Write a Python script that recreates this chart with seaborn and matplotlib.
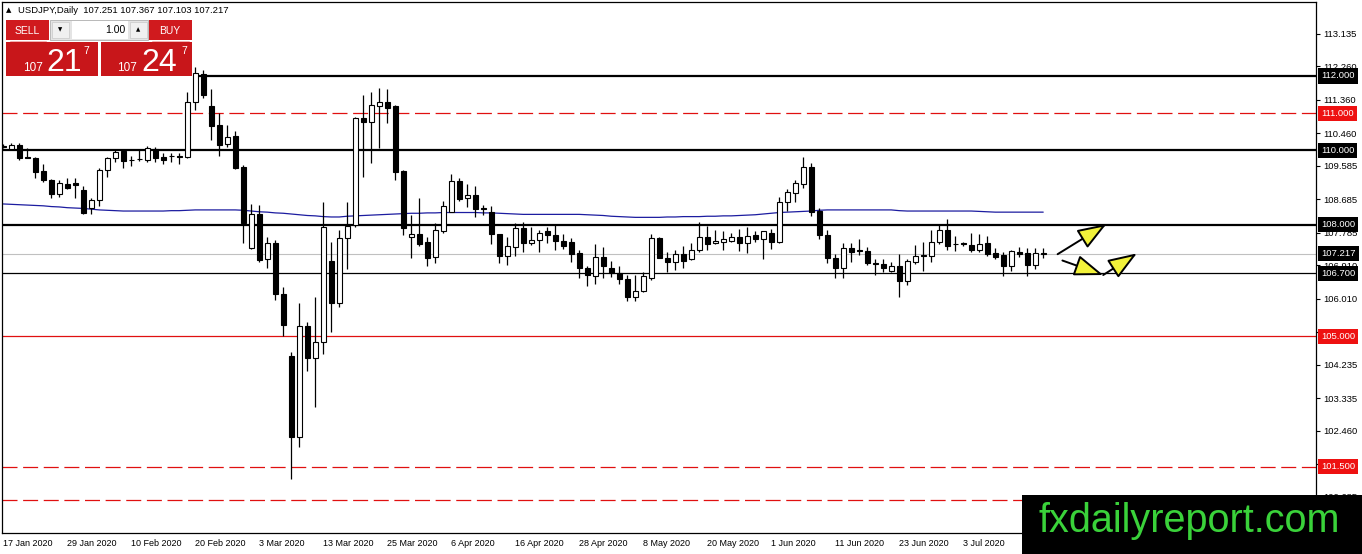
import numpy as np
import pandas as pd
import matplotlib
matplotlib.use("Agg")
import matplotlib.pyplot as plt
from matplotlib.transforms import blended_transform_factory
from matplotlib.patches import Rectangle
import seaborn as sns

# ---------------- data ----------------
opens = [110.12,110.04,110.15,109.81,109.80,109.45,109.20,108.83,109.10,109.12,
         108.94,108.44,108.67,109.47,109.79,109.98,109.75,109.76,109.74,110.04,
         109.81,109.86,109.84,109.81,111.31,112.05,111.19,110.68,110.16,110.39,
         109.55,107.38,108.29,107.07,107.52,106.13,104.46,102.30,105.27,104.43,
         104.86,107.02,105.89,107.64,108.00,110.86,110.75,111.20,111.29,111.18,
         109.45,107.68,107.74,107.53,107.13,107.84,108.34,109.18,108.71,108.80,
         108.44,108.35,107.75,107.17,107.41,107.91,107.50,107.59,107.82,107.73,
         107.56,107.53,107.24,106.85,106.62,107.14,106.83,106.71,106.55,106.07,
         106.23,106.58,107.64,107.10,106.99,107.21,107.07,107.32,107.66,107.50,
         107.55,107.57,107.66,107.50,107.73,107.62,107.77,107.55,108.62,108.86,
         109.09,109.55,108.38,107.73,107.10,106.83,107.37,107.31,107.30,106.97,
         106.95,106.76,106.89,106.49,107.01,107.19,107.16,107.53,107.87,107.49,
         107.50,107.46,107.31,107.52,107.24,107.19,106.88,107.26,107.24,106.91,
         107.251]
highs = [110.18,110.19,110.19,110.06,109.82,109.63,109.22,109.20,109.26,109.25,
         109.03,108.72,109.53,109.83,110.03,110.05,109.85,110.04,110.12,110.09,
         109.92,109.92,109.92,111.58,112.25,112.16,111.64,111.00,110.68,110.53,
         109.60,108.56,108.53,107.68,107.60,106.34,104.59,105.91,105.38,106.07,
         108.62,107.55,107.86,108.62,110.90,111.49,111.56,111.67,111.64,111.22,
         109.46,108.27,108.71,107.68,108.06,108.65,109.36,109.26,109.10,109.04,
         108.54,108.51,107.76,107.68,108.06,108.08,107.95,107.86,107.95,108.00,
         107.75,107.64,107.32,106.90,107.48,107.40,107.03,106.89,106.65,106.65,
         106.72,107.75,107.68,107.26,107.32,107.44,107.50,108.08,107.98,107.86,
         107.82,107.77,107.90,107.93,107.82,107.84,107.88,108.74,108.96,109.20,
         109.81,109.65,108.44,107.86,107.22,107.50,107.52,107.62,107.40,107.08,
         107.07,107.01,107.21,107.07,107.46,107.55,107.86,108.00,108.15,107.71,
         107.55,107.77,107.76,107.70,107.37,107.28,107.33,107.41,107.37,107.38,
         107.367]
lows = [110.06,110.02,109.74,109.79,109.25,109.16,108.71,108.76,108.95,108.72,
        108.28,108.28,108.51,109.29,109.70,109.52,109.57,109.72,109.70,109.70,
        109.64,109.70,109.63,109.80,111.09,111.41,110.28,109.85,110.10,109.49,
        107.50,107.34,107.01,106.83,105.98,105.00,101.18,102.04,104.08,103.09,
        104.53,105.13,105.80,106.80,107.95,109.29,109.65,110.06,110.73,109.20,
        107.73,107.10,107.44,106.90,106.98,107.79,108.34,108.65,108.49,108.20,
        108.27,107.48,106.96,106.92,107.15,107.28,107.47,107.28,107.50,107.32,
        107.36,107.00,106.56,106.35,106.40,106.58,106.60,106.40,105.95,105.95,
        106.20,106.52,107.10,106.72,106.79,106.83,107.05,107.28,107.32,107.49,
        107.32,107.55,107.30,107.25,107.55,107.07,107.34,107.50,108.38,108.60,
        109.00,108.24,107.61,106.98,106.56,106.56,107.01,107.20,106.92,106.65,
        106.73,106.74,106.05,106.38,106.95,106.77,107.00,107.49,107.32,107.30,
        107.43,107.27,107.27,107.17,107.09,106.63,106.76,107.13,106.63,106.82,
        107.103]
closes = [110.10,110.15,109.80,109.80,109.43,109.20,108.83,109.12,108.98,109.06,
          108.31,108.67,109.47,109.79,109.97,109.71,109.74,109.77,110.06,109.79,
          109.74,109.85,109.83,111.31,112.07,111.49,110.66,110.15,110.37,109.54,
          108.06,108.28,107.05,107.50,106.13,105.31,102.30,105.27,104.43,104.86,
          107.93,105.89,107.64,107.97,110.86,110.75,111.22,111.29,111.15,109.43,
          107.92,107.75,107.48,107.12,107.86,108.50,109.18,108.69,108.80,108.42,
          108.43,107.74,107.17,107.43,107.91,107.50,107.59,107.77,107.73,107.56,
          107.44,107.21,106.83,106.65,107.14,106.89,106.71,106.53,106.07,106.23,
          106.62,107.64,107.10,106.99,107.21,107.03,107.32,107.68,107.48,107.56,
          107.62,107.66,107.50,107.71,107.62,107.82,107.55,108.62,108.87,109.12,
          109.55,108.35,107.73,107.10,106.83,107.37,107.28,107.30,106.97,106.94,
          106.83,106.89,106.49,107.03,107.16,107.16,107.53,107.87,107.44,107.48,
          107.49,107.31,107.49,107.21,107.13,106.88,107.30,107.21,106.91,107.24,
          107.217]
ma_line = [108.56,108.55,108.54,108.53,108.52,108.51,108.49,108.48,108.46,108.45,
           108.44,108.42,108.40,108.39,108.38,108.37,108.37,108.37,108.37,108.37,
           108.37,108.38,108.38,108.39,108.40,108.40,108.40,108.40,108.40,108.40,
           108.39,108.37,108.35,108.34,108.32,108.31,108.29,108.27,108.25,108.24,
           108.22,108.21,108.21,108.23,108.24,108.25,108.26,108.27,108.28,108.29,
           108.30,108.31,108.31,108.32,108.32,108.33,108.33,108.33,108.33,108.33,
           108.32,108.32,108.31,108.30,108.29,108.28,108.28,108.28,108.28,108.28,
           108.28,108.28,108.28,108.27,108.26,108.25,108.23,108.22,108.21,108.20,
           108.20,108.20,108.20,108.21,108.21,108.22,108.22,108.22,108.23,108.23,
           108.24,108.24,108.25,108.26,108.27,108.29,108.31,108.33,108.34,108.35,
           108.36,108.37,108.39,108.40,108.40,108.40,108.40,108.40,108.40,108.40,
           108.40,108.40,108.38,108.37,108.37,108.37,108.37,108.37,108.37,108.37,
           108.37,108.37,108.36,108.35,108.34,108.34,108.34,108.34,108.34,108.34,
           108.34]

date_labels = ["17 Jan 2020", "29 Jan 2020", "10 Feb 2020", "20 Feb 2020", "3 Mar 2020",
               "13 Mar 2020", "25 Mar 2020", "6 Apr 2020", "16 Apr 2020", "28 Apr 2020",
               "8 May 2020", "20 May 2020", "1 Jun 2020", "11 Jun 2020", "23 Jun 2020",
               "3 Jul 2020"]
date_label_bars = [0, 8, 16, 24, 32, 40, 48, 56, 64, 72, 80, 88, 96, 104, 112, 120]

price_ticks = [113.135, 112.260, 111.360, 110.460, 109.585, 108.685, 107.785, 106.910,
               106.010, 105.110, 104.235, 103.335, 102.460, 101.560, 100.685]

# horizontal levels
level_prices = [112.0, 111.0, 110.0, 108.0, 107.217, 106.7, 105.0, 101.5, 100.6]
level_colors = ["black", "#e01010", "black", "black", "#c0c0c0", "black", "#e01010", "#e01010", "#e01010"]
level_styles = ["solid", "dashed", "solid", "solid", "solid", "solid", "solid", "dashed", "dashed"]
level_widths = [1.6, 0.9, 1.6, 1.6, 0.8, 0.9, 0.9, 0.9, 0.9]
level_start = [24, None, None, None, None, None, None, None, None]

tag_prices = [112.0, 111.0, 110.0, 108.0, 107.217, 106.7, 105.0, 101.5]
tag_colors = ["black", "#ee1111", "black", "black", "black", "black", "#ee1111", "#ee1111"]

# forecast arrows (bar, price) -> (bar, price)
arrow_from = [(131.8, 107.21), (132.4, 107.04), (137.5, 106.65)]
arrow_to = [(137.9, 108.02), (137.5, 106.65), (141.7, 107.23)]

# ---------------- figure ----------------
sns.set_style("white")
plt.rcParams["font.family"] = ["Liberation Sans", "DejaVu Sans"]

W, H = 1362, 554
fig = plt.figure(figsize=(W / 100, H / 100), dpi=100)
fig.patch.set_facecolor("white")

L_, R_, T_, B_ = 2, 1316, 2, 533
ax = fig.add_axes([L_ / W, (H - B_) / H, (R_ - L_) / W, (B_ - T_) / H])
ax.set_facecolor("white")

df = pd.DataFrame({"bar": np.arange(len(opens)), "open": opens, "high": highs,
                   "low": lows, "close": closes, "ma": ma_line})

# wicks
ax.vlines(df["bar"], df["low"], df["high"], color="black", lw=0.9, zorder=3)
# bodies
up = df["close"] >= df["open"]
body_bottom = np.minimum(df["open"], df["close"])
body_h = np.maximum(np.abs(df["close"] - df["open"]), 0.004)
ax.bar(df["bar"][up], body_h[up], bottom=body_bottom[up], width=0.62,
       color="white", edgecolor="black", linewidth=0.8, zorder=4)
ax.bar(df["bar"][~up], body_h[~up], bottom=body_bottom[~up], width=0.62,
       color="black", edgecolor="black", linewidth=0.8, zorder=4)

# moving average
sns.lineplot(data=df, x="bar", y="ma", ax=ax, color="#1c1ca0", lw=0.9, zorder=2)

XMIN, XMAX = -0.16, 164.1
ax.set_xlim(XMIN, XMAX)
ax.set_ylim(99.715, 113.989)

# levels
for p, c, s, w, st in zip(level_prices, level_colors, level_styles, level_widths, level_start):
    xmin = 0 if st is None else (st - XMIN) / (XMAX - XMIN)
    ln = ax.axhline(p, xmin=xmin, xmax=1, color=c, lw=w, zorder=1.5)
    if s == "dashed":
        ln.set_dashes((12, 4.5))

# arrows
for (x0, y0), (x1, y1) in zip(arrow_from, arrow_to):
    ax.annotate("", xy=(x1, y1), xytext=(x0, y0),
                arrowprops=dict(arrowstyle="-|>,head_length=1.5,head_width=0.55",
                                fc="#f2f23a", ec="black", lw=1.4,
                                mutation_scale=12, shrinkA=0, shrinkB=0), zorder=6)

# axes styling
for sp in ax.spines.values():
    sp.set_color("black")
    sp.set_linewidth(0.9)
ax.yaxis.tick_right()
ax.set_yticks(price_ticks)
ax.set_yticklabels([f"{v:.3f}" for v in price_ticks])
ax.tick_params(axis="y", direction="out", length=3, width=0.8, pad=2.5, labelsize=6.8,
               colors="black", right=True, left=False)
ax.set_xticks(date_label_bars)
ax.set_xticklabels(date_labels, ha="left")
ax.tick_params(axis="x", direction="out", length=3, width=0.8, pad=1.5, labelsize=6.5,
               colors="black")
ax.set_xlabel("")
ax.set_ylabel("")

# price tags on the right scale
trans = blended_transform_factory(ax.transAxes, ax.transData)
for p, c in zip(tag_prices, tag_colors):
    ax.text(1.0 + 5 / (R_ - L_), p, f"{p:.3f}", transform=trans, ha="left", va="center",
            fontsize=6.8, color="white", clip_on=False, zorder=8,
            bbox=dict(boxstyle="square,pad=0.32", fc=c, ec="none"))

# ---------------- overlay (panel, title, watermark) ----------------
ov = fig.add_axes([0, 0, 1, 1], zorder=10)
ov.set_xlim(0, W)
ov.set_ylim(H, 0)
ov.axis("off")
ov.patch.set_alpha(0)

ov.text(6, 10, "\u25b2", fontsize=5, va="center", ha="left", color="black",
        family=["DejaVu Sans"])
ov.text(18, 10.5, "USDJPY,Daily  107.251 107.367 107.103 107.217", fontsize=6.8,
        va="center", ha="left", color="black")

red = "#d01a1e"
ov.add_patch(Rectangle((6, 20), 43, 20, fc=red, ec="none"))
ov.add_patch(Rectangle((149, 20), 43, 20, fc=red, ec="none"))
ov.add_patch(Rectangle((50, 20), 98, 20, fc="#e4e4e4", ec="#b0b0b0", lw=0.6))
ov.add_patch(Rectangle((72, 21), 56, 18, fc="white", ec="none"))
ov.add_patch(Rectangle((52, 22), 17, 16, fc="#f0f0f0", ec="#c8c8c8", lw=0.5))
ov.add_patch(Rectangle((130, 22), 17, 16, fc="#f0f0f0", ec="#c8c8c8", lw=0.5))
ov.add_patch(Rectangle((6, 42), 92, 34, fc="#c8161a", ec="none"))
ov.add_patch(Rectangle((101, 42), 91, 34, fc="#c8161a", ec="none"))
ov.plot([10, 46], [41, 41], color="#f0a0a0", lw=0.6)
ov.plot([152, 189], [41, 41], color="#f0a0a0", lw=0.6)
ov.text(27, 30.5, "SELL", fontsize=7.5, color="white", ha="center", va="center")
ov.text(170, 30.5, "BUY", fontsize=7.5, color="white", ha="center", va="center")
ov.text(125, 30, "1.00", fontsize=7.5, color="black", ha="right", va="center")
ov.text(60.5, 30, "\u25bc", fontsize=4, color="black", ha="center", va="center",
        family=["DejaVu Sans"])
ov.text(138.5, 30, "\u25b2", fontsize=4, color="black", ha="center", va="center",
        family=["DejaVu Sans"])
for x107, xbig, xsup, big in [(23, 46, 83, "21"), (117, 141, 181, "24")]:
    ov.text(x107, 71, "107", fontsize=8.5, color="white", ha="left", va="baseline")
    ov.text(xbig, 71, big, fontsize=23, color="white", ha="left", va="baseline")
    ov.text(xsup, 54, "7", fontsize=7.5, color="white", ha="left", va="baseline")

ov.add_patch(Rectangle((1022, 495), W - 1022, H - 495, fc="black", ec="none"))
ov.text(1189, 521, "fxdailyreport.com", fontsize=28.5, color="#3ad23a", ha="center",
        va="center")

fig.savefig("out.png", dpi=100, facecolor="white")
